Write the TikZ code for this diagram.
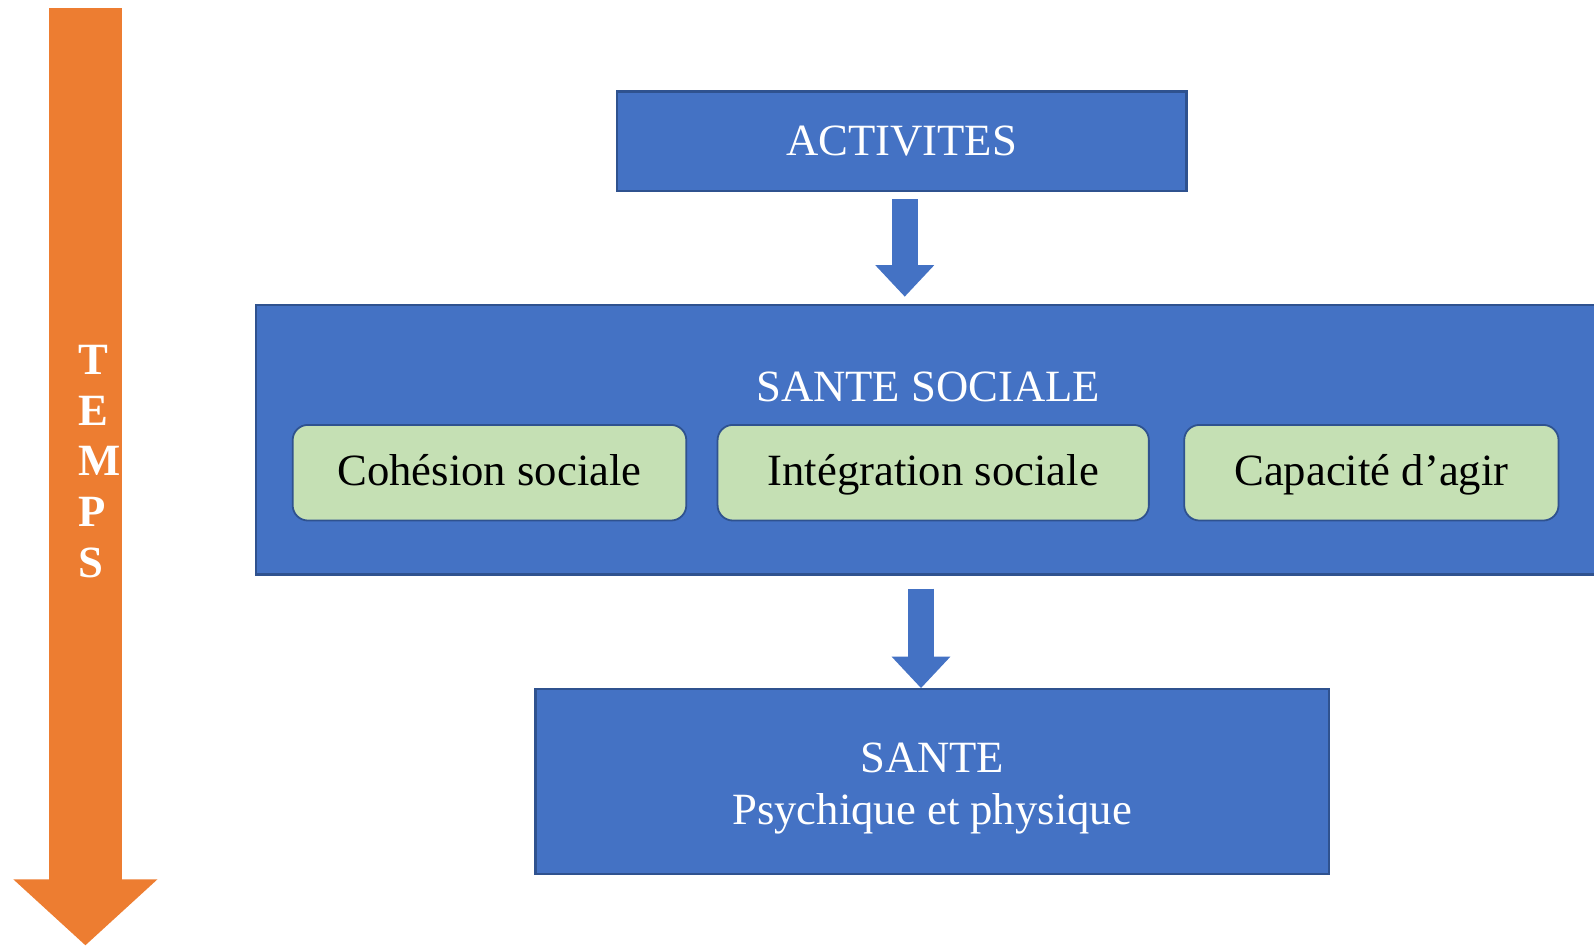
\documentclass[tikz,border=0pt]{standalone}
\usepackage{fontspec}
\setmainfont{Liberation Serif}
\usetikzlibrary{arrows.meta}
\definecolor{boxblue}{HTML}{4472C4}
\definecolor{edgeblue}{HTML}{2F528F}
\definecolor{timeorange}{HTML}{ED7D31}
\definecolor{dimgreen}{HTML}{C5E0B4}

\begin{document}
\begin{tikzpicture}[x=0.01cm, y=-0.01cm,
  font=\fontsize{12.5}{14.5}\selectfont,
  bluebox/.style={rectangle, fill=boxblue, draw=edgeblue, line width=0.6pt, text=white, inner sep=0pt},
  greenbox/.style={rectangle, rounded corners=0.15cm, fill=dimgreen, draw=edgeblue, line width=0.5pt, minimum height=0.94cm, inner sep=0pt, text height=0.33cm, text depth=0.07cm},
  blockarrow/.style={draw=boxblue, line width=0.26cm, -{Triangle[length=0.31cm, width=0.56cm]}}]
\useasboundingbox (0,0) rectangle (1568,930.6);
% temps
\coordinate (tTop) at (84,8);
\coordinate (tEnd) at (84,930);
\draw [draw=timeorange, line width=0.72cm, -{Triangle[length=0.65cm, width=1.38cm]}] (tTop) to (tEnd);
\node [text=white, font=\bfseries\fontsize{12.5}{14.2}\selectfont, align=left] (temps) at (98,454) {T\\E\\M\\P\\S};
% boites
\node [bluebox, minimum width=5.6cm, minimum height=0.98cm] (act) at (887,139) {ACTIVITES};
\node [bluebox, minimum width=13.28cm, minimum height=2.65cm] (soc) at (916,432.5) {};
\node [text=white] (socT) at (913,381) {SANTE SOCIALE};
\node [greenbox, minimum width=3.87cm] (coh) at (481.5,465) {Cohésion sociale};
\node [greenbox, minimum width=4.24cm] (integ) at (918,465) {Intégration sociale};
\node [greenbox, minimum width=3.68cm] (cap) at (1349,465) {Capacité d’agir};
\node [bluebox, minimum width=7.8cm, minimum height=1.82cm] (sante) at (917,769) {};
\node [text=white, align=center] (santeT) at (917,776) {SANTE\\Psychique et physique};
% fleches
\draw [blockarrow] ([xshift=0.03cm, yshift=-0.07cm]act.south) to ([xshift=0.03cm, yshift=0.07cm]act.south |- soc.north);
\draw [blockarrow] ([xshift=-0.11cm, yshift=-0.13cm]sante.north |- soc.south) to ([xshift=-0.11cm]sante.north);
\end{tikzpicture}
\end{document}
